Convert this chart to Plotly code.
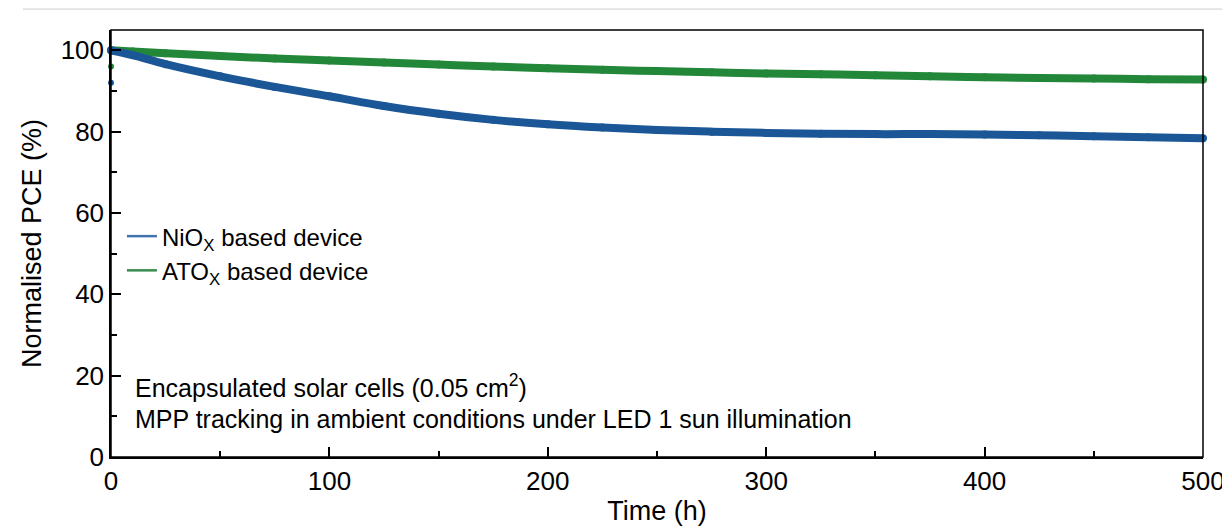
import plotly.graph_objects as go

# ---- data ----
time_h = [0, 10, 25, 50, 75, 100, 125, 150, 175, 200, 225, 250, 275, 300,
          325, 350, 375, 400, 425, 450, 475, 500]
nio_pce = [100, 98.8, 96.6, 93.6, 91.0, 88.7, 86.3, 84.4, 82.9, 81.8, 81.0,
           80.4, 80.0, 79.7, 79.5, 79.4, 79.4, 79.3, 79.1, 78.9, 78.6, 78.4]
ato_pce = [100, 99.7, 99.3, 98.6, 98.0, 97.5, 97.0, 96.5, 96.0, 95.6, 95.2,
           94.9, 94.6, 94.3, 94.1, 93.9, 93.6, 93.4, 93.2, 93.1, 92.9, 92.8]
nio_initial_t = [0]
nio_initial_pce = [92]
ato_initial_t = [0]
ato_initial_pce = [96]

names = ["NiO<sub>X</sub> based device", "ATO<sub>X</sub> based device"]
x_ticks = [0, 100, 200, 300, 400, 500]
y_ticks = [0, 20, 40, 60, 80, 100]
note_lines = ["Encapsulated solar cells (0.05 cm<sup>2</sup>)",
              "MPP tracking in ambient conditions under LED 1 sun illumination"]

BLUE = "#1b5796"
GREEN = "#23873a"
FONT = "Liberation Sans, Arial, sans-serif"

fig = go.Figure()

# data bands
fig.add_trace(go.Scatter(x=time_h, y=ato_pce, mode="lines+markers",
                         line=dict(color=GREEN, width=8, shape="spline"),
                         marker=dict(color=GREEN, size=8),
                         cliponaxis=False, showlegend=False))
fig.add_trace(go.Scatter(x=time_h, y=nio_pce, mode="lines+markers",
                         line=dict(color=BLUE, width=8, shape="spline"),
                         marker=dict(color=BLUE, size=8),
                         cliponaxis=False, showlegend=False))
fig.add_trace(go.Scatter(x=nio_initial_t, y=nio_initial_pce, mode="markers",
                         marker=dict(color=BLUE, size=6), cliponaxis=False,
                         showlegend=False))
fig.add_trace(go.Scatter(x=ato_initial_t, y=ato_initial_pce, mode="markers",
                         marker=dict(color=GREEN, size=6), cliponaxis=False,
                         showlegend=False))

# legend entries (thin lines)
fig.add_trace(go.Scatter(x=[None], y=[None], mode="lines", name=names[0],
                         line=dict(color="#3f74ad", width=2.5)))
fig.add_trace(go.Scatter(x=[None], y=[None], mode="lines", name=names[1],
                         line=dict(color="#3a8d4f", width=2.5)))

axis_common = dict(
    showline=True, linecolor="black", linewidth=1.5, mirror=False,
    ticks="inside", ticklen=10, tickwidth=1.5, tickcolor="black",
    showgrid=False, zeroline=False, automargin=False,
    ticklabeloverflow="allow",
    tickfont=dict(family=FONT, size=26, color="black"),
)

fig.update_xaxes(range=[0, 500], tickvals=x_ticks,
                 minor=dict(dtick=50, ticks="inside", ticklen=6,
                            tickwidth=1.5, tickcolor="black"),
                 title=dict(text="Time (h)", font=dict(family=FONT, size=27,
                                                       color="black"),
                            standoff=8),
                 **axis_common)
fig.update_yaxes(range=[0, 105], tickvals=y_ticks,
                 minor=dict(dtick=10, ticks="inside", ticklen=6,
                            tickwidth=1.5, tickcolor="black"),
                 title=dict(text="Normalised PCE (%)",
                            font=dict(family=FONT, size=27, color="black"),
                            standoff=11),
                 **axis_common)

# frame (top/right without ticks)
fig.add_shape(type="rect", xref="paper", yref="paper", x0=0, x1=1, y0=0, y1=1,
              line=dict(color="black", width=1.5), layer="above")
# faint page rule at the top
fig.add_shape(type="line", xref="paper", yref="paper", x0=-0.0806, x1=1.02,
              y0=1.049, y1=1.049, line=dict(color="#cccccc", width=1))

fig.add_annotation(x=0.02, y=0.166, xref="paper", yref="paper",
                   text=note_lines[0], showarrow=False, xanchor="left",
                   yanchor="middle", align="left",
                   font=dict(family=FONT, size=25, color="black"))
fig.add_annotation(x=0.02, y=0.089, xref="paper", yref="paper",
                   text=note_lines[1], showarrow=False, xanchor="left",
                   yanchor="middle", align="left",
                   font=dict(family=FONT, size=25, color="black"))

fig.update_layout(
    width=1222, height=526,
    margin=dict(l=111, r=19, t=30, b=69),
    paper_bgcolor="white", plot_bgcolor="white",
    font=dict(family=FONT, color="black"),
    legend=dict(x=0.01, y=0.569, xanchor="left", yanchor="top",
                bgcolor="rgba(0,0,0,0)", font=dict(family=FONT, size=24),
                tracegroupgap=0, itemwidth=30),
)

fig.write_html("out.html")
